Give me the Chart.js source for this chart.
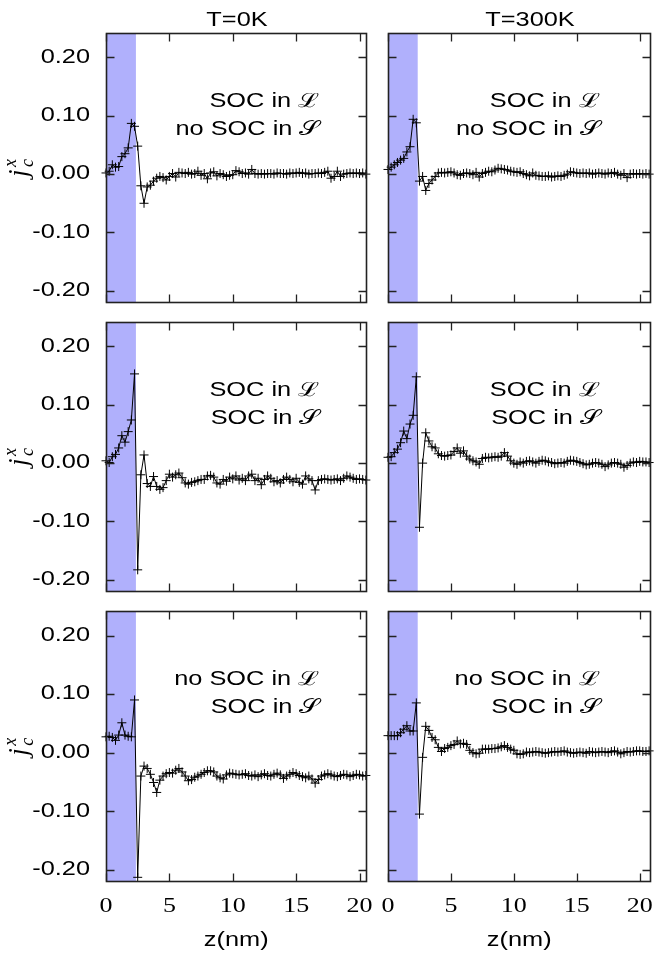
<!DOCTYPE html>
<html>
<head>
<meta charset="utf-8">
<script src="https://cdn.jsdelivr.net/npm/chart.js@4.4.0/dist/chart.umd.min.js"></script>
<style>
	body { margin: 0; background: #fff; width: 656px; height: 954px; position: relative; overflow: hidden; }
	canvas { position: absolute; }
</style>
</head>
<body>
<canvas id="pA"></canvas>
<canvas id="pB"></canvas>
<canvas id="pC"></canvas>
<canvas id="pD"></canvas>
<canvas id="pE"></canvas>
<canvas id="pF"></canvas>
<script>
// z positions (nm)
var z = [0, 0.25, 0.5, 0.75, 1, 1.25, 1.5, 1.75, 2, 2.25, 2.5, 2.75, 3, 3.25, 3.5, 3.75, 4, 4.25, 4.5, 4.75,
	5, 5.25, 5.5, 5.75, 6, 6.25, 6.5, 6.75, 7, 7.25, 7.5, 7.75, 8, 8.25, 8.5, 8.75, 9, 9.25, 9.5, 9.75,
	10, 10.25, 10.5, 10.75, 11, 11.25, 11.5, 11.75, 12, 12.25, 12.5, 12.75, 13, 13.25, 13.5, 13.75, 14, 14.25, 14.5, 14.75,
	15, 15.25, 15.5, 15.75, 16, 16.25, 16.5, 16.75, 17, 17.25, 17.5, 17.75, 18, 18.25, 18.5, 18.75, 19, 19.25, 19.5, 19.75,
	20, 20.25, 20.5, 20.75];

// j_c^x, SOC in L / no SOC in S
var socL_noS_0K = [0.002, 0.005, 0.016, 0.012, 0.013, 0.030, 0.035, 0.045, 0.087, 0.082,
	0.048, -0.020, -0.050, -0.022, -0.019, -0.012, -0.007, -0.004, -0.006, -0.010,
	-0.004, 0.001, -0.005, 0.003, 0.002, 0.001, 0.003, 0.000, 0.001, 0.005,
	-0.002, 0.001, -0.008, 0.002, 0.004, -0.003, 0.001, -0.001, -0.004, -0.002,
	-0.001, 0.006, 0.004, 0.001, 0.002, 0.000, 0.008, 0.001, 0.000, 0.001,
	0.000, 0.001, 0.001, 0.000, 0.002, 0.001, 0.001, 0.000, 0.002, 0.001,
	0.002, 0.003, 0.001, 0.002, 0.000, 0.001, 0.001, 0.002, 0.001, 0.003,
	0.005, -0.007, -0.004, 0.005, -0.004, 0.000, 0.001, 0.002, 0.001, 0.002,
	0.001, 0.002, 0.000];
var socL_noS_300K = [0.008, 0.012, 0.016, 0.020, 0.024, 0.027, 0.038, 0.047, 0.094, 0.088,
	-0.012, -0.004, -0.028, -0.016, -0.010, -0.004, 0.002, 0.003, 0.002, 0.003,
	0.004, 0.002, -0.001, -0.002, 0.001, 0.002, 0.001, -0.001, 0.003, -0.005,
	0.001, 0.003, 0.005, 0.004, 0.007, 0.010, 0.009, 0.008, 0.007, 0.005,
	0.004, 0.003, 0.004, 0.001, -0.001, -0.003, 0.002, -0.002, -0.003, -0.004,
	-0.004, -0.003, -0.005, -0.004, -0.003, -0.004, -0.002, 0.000, 0.004, 0.003,
	0.002, 0.001, 0.002, 0.001, 0.002, 0.000, 0.001, 0.002, 0.001, 0.000,
	0.002, 0.001, 0.003, 0.000, -0.002, 0.001, -0.006, 0.000, 0.001, 0.000,
	0.001, 0.000, 0.001, 0.000];
// SOC in L / SOC in S
var socL_socS_0K = [0.004, 0.001, 0.011, 0.015, 0.026, 0.047, 0.036, 0.054, 0.074, 0.153,
	-0.183, -0.020, 0.014, -0.035, -0.040, -0.023, -0.040, -0.045, -0.042, -0.030,
	-0.019, -0.024, -0.020, -0.017, -0.025, -0.034, -0.036, -0.033, -0.032, -0.030,
	-0.028, -0.028, -0.022, -0.021, -0.024, -0.034, -0.036, -0.028, -0.031, -0.024,
	-0.027, -0.022, -0.029, -0.026, -0.030, -0.022, -0.019, -0.030, -0.026, -0.037,
	-0.028, -0.022, -0.026, -0.032, -0.030, -0.034, -0.028, -0.024, -0.028, -0.032,
	-0.026, -0.033, -0.036, -0.022, -0.027, -0.030, -0.046, -0.030, -0.028, -0.027,
	-0.028, -0.029, -0.028, -0.027, -0.030, -0.026, -0.022, -0.024, -0.026, -0.028,
	-0.027, -0.028, -0.029];
var socL_socS_300K = [0.010, 0.011, 0.018, 0.024, 0.035, 0.055, 0.042, 0.067, 0.082, 0.148,
	-0.110, 0.000, 0.052, 0.038, 0.028, 0.026, 0.016, 0.013, 0.012, 0.013,
	0.014, 0.020, 0.026, 0.017, 0.021, 0.012, 0.007, 0.004, 0.002, -0.002,
	0.008, 0.010, 0.009, 0.010, 0.011, 0.010, 0.012, 0.018, 0.012, 0.004,
	0.000, -0.002, 0.002, 0.000, 0.003, 0.004, 0.002, 0.000, 0.003, 0.005,
	0.004, 0.002, 0.001, -0.001, 0.000, 0.001, 0.000, 0.003, 0.005, 0.004,
	0.003, 0.001, -0.001, -0.003, -0.002, 0.000, 0.001, 0.000, -0.002, -0.006,
	-0.003, 0.000, 0.001, 0.000, -0.002, -0.007, -0.004, 0.000, 0.002, 0.001,
	0.003, 0.002, 0.002, 0.001];
// no SOC in L / SOC in S
var noL_socS_0K = [0.027, 0.028, 0.026, 0.021, 0.030, 0.051, 0.030, 0.028, 0.027, 0.090,
	-0.213, -0.040, -0.023, -0.027, -0.037, -0.051, -0.068, -0.047, -0.040, -0.036,
	-0.034, -0.035, -0.030, -0.027, -0.033, -0.040, -0.048, -0.046, -0.042, -0.040,
	-0.037, -0.034, -0.031, -0.031, -0.033, -0.040, -0.043, -0.045, -0.038, -0.035,
	-0.036, -0.037, -0.038, -0.037, -0.036, -0.039, -0.040, -0.038, -0.041, -0.038,
	-0.036, -0.039, -0.040, -0.037, -0.035, -0.038, -0.044, -0.040, -0.037, -0.034,
	-0.036, -0.039, -0.041, -0.043, -0.040, -0.045, -0.052, -0.046, -0.040, -0.038,
	-0.036, -0.038, -0.040, -0.041, -0.039, -0.037, -0.038, -0.041, -0.039, -0.037,
	-0.038, -0.040, -0.039];
var noL_socS_300K = [0.029, 0.029, 0.029, 0.029, 0.034, 0.040, 0.046, 0.037, 0.037, 0.085,
	-0.105, -0.008, 0.045, 0.038, 0.026, 0.022, 0.009, 0.002, 0.007, 0.009,
	0.012, 0.014, 0.020, 0.015, 0.016, 0.014, 0.004, 0.000, -0.002, -0.001,
	0.006, 0.006, 0.006, 0.007, 0.007, 0.008, 0.010, 0.012, 0.009, 0.006,
	0.004, -0.002, -0.003, -0.002, 0.001, 0.000, 0.001, 0.002, 0.001, 0.000,
	-0.001, 0.000, 0.001, 0.002, 0.001, 0.002, 0.003, 0.001, 0.000, -0.001,
	0.000, 0.001, 0.000, -0.001, 0.002, 0.001, 0.000, 0.001, 0.002, 0.001,
	0.000, 0.002, 0.003, 0.001, -0.002, 0.000, 0.002, 0.001, 0.002, 0.003,
	0.003, 0.002, 0.002, 0.003];

var yTicks = [-0.2, -0.1, 0, 0.1, 0.2];
var xTicks = [0, 5, 10, 15, 20];
var bandEnd = 2.36; // interface, shaded region 0..bandEnd
var labelZ = 16.8;  // right edge of the SOC labels
var labelY = [0.125, 0.077];

var sansFont = '19.5px "Liberation Sans", Arial, sans-serif';
var textStretch = 1.3;

// one entry per panel: where it sits and what it shows
var panels = [
	{ id: 'pA', data: socL_noS_0K,    col: 0, row: 0, title: 'T=0K',   text: ['SOC in \u2112', 'no SOC in \uD835\uDCAE'] },
	{ id: 'pB', data: socL_noS_300K,  col: 1, row: 0, title: 'T=300K', text: ['SOC in \u2112', 'no SOC in \uD835\uDCAE'] },
	{ id: 'pC', data: socL_socS_0K,   col: 0, row: 1, text: ['SOC in \u2112', 'SOC in \uD835\uDCAE'] },
	{ id: 'pD', data: socL_socS_300K, col: 1, row: 1, text: ['SOC in \u2112', 'SOC in \uD835\uDCAE'] },
	{ id: 'pE', data: noL_socS_0K,    col: 0, row: 2, text: ['no SOC in \u2112', 'SOC in \uD835\uDCAE'] },
	{ id: 'pF', data: noL_socS_300K,  col: 1, row: 2, text: ['no SOC in \u2112', 'SOC in \uD835\uDCAE'] }
];

var colLayout = [
	{ left: 0,   width: 372, axisW: 106, padRight: 3, xMax: 20.55, titleX: 237 },
	{ left: 372, width: 284, axisW: 16,  padRight: 1, xMax: 20.86, titleX: 158 }
];
var rowLayout = [
	{ top: 0,   height: 310, padTop: 33, axisH: 7 },
	{ top: 312, height: 290, padTop: 10, axisH: 10 },
	{ top: 602, height: 352, padTop: 9, axisH: 72 }
];

function drawStretched(ctx, text, x, y, align, font) {
	ctx.save();
	ctx.font = font;
	ctx.fillStyle = '#000';
	ctx.textAlign = align;
	ctx.textBaseline = 'middle';
	ctx.translate(x, y);
	ctx.scale(textStretch, 1);
	ctx.fillText(text, 0, 0);
	ctx.restore();
}

function drawCurrentLabel(ctx, x, y) {
	ctx.save();
	ctx.translate(x, y);
	ctx.rotate(-Math.PI / 2);
	ctx.fillStyle = '#000';
	ctx.textBaseline = 'alphabetic';
	ctx.font = 'italic 27px "Liberation Serif", serif';
	ctx.fillText('j', -11, 7);
	ctx.font = 'italic 18px "Liberation Serif", serif';
	ctx.fillText('x', -1, -4);
	ctx.fillText('c', -1, 13);
	ctx.restore();
}

function fmtTick(v) {
	return (v < 0 ? '-' : '') + Math.abs(v).toFixed(2);
}

var panelDeco = {
	id: 'panelDeco',
	beforeDatasetsDraw: function(chart) {
		var ctx = chart.ctx, a = chart.chartArea, xs = chart.scales.x;
		var x0 = xs.getPixelForValue(0), x1 = xs.getPixelForValue(bandEnd);
		ctx.save();
		ctx.fillStyle = 'rgb(176, 176, 252)';
		ctx.fillRect(x0, a.top, x1 - x0, a.bottom - a.top);
		ctx.restore();
	},
	afterDatasetsDraw: function(chart) {
		var p = chart.options.plugins.panelDeco;
		var ctx = chart.ctx, a = chart.chartArea, xs = chart.scales.x, ys = chart.scales.y;
		var l = Math.round(a.left) + 0.5, r = Math.round(a.right) - 0.5;
		var t = Math.round(a.top) + 0.5, b = Math.round(a.bottom) - 0.5;
		var tl = 8;

		ctx.save();
		ctx.strokeStyle = '#222';
		ctx.lineWidth = 1.3;
		ctx.beginPath();
		ys.ticks.forEach(function(tk) {
			var y = Math.round(ys.getPixelForValue(tk.value)) + 0.5;
			ctx.moveTo(l, y); ctx.lineTo(l + tl, y);
			ctx.moveTo(r, y); ctx.lineTo(r - tl, y);
		});
		xs.ticks.forEach(function(tk) {
			var x = Math.round(xs.getPixelForValue(tk.value)) + 0.5;
			ctx.moveTo(x, b); ctx.lineTo(x, b - tl);
			ctx.moveTo(x, t); ctx.lineTo(x, t + tl);
		});
		ctx.stroke();
		ctx.lineWidth = 1.6;
		ctx.strokeRect(l, t, r - l, b - t);
		ctx.restore();

		// labels inside the panel
		var xl = xs.getPixelForValue(labelZ);
		drawStretched(ctx, p.text[0], xl, ys.getPixelForValue(labelY[0]), 'right', sansFont);
		drawStretched(ctx, p.text[1], xl, ys.getPixelForValue(labelY[1]), 'right', sansFont);

		if (p.title) {
			drawStretched(ctx, p.title, p.titleX, 21, 'center', sansFont);
		}
		if (p.col === 0) {
			ys.ticks.forEach(function(tk) {
				drawStretched(ctx, fmtTick(tk.value), a.left - 16, ys.getPixelForValue(tk.value), 'right', sansFont);
			});
			drawCurrentLabel(ctx, 20, ys.getPixelForValue(0) - 8);
		}
		if (p.row === 2) {
			xs.ticks.forEach(function(tk) {
				drawStretched(ctx, String(tk.value), xs.getPixelForValue(tk.value), a.bottom + 25, 'center', '20px "Liberation Serif", serif');
			});
			drawStretched(ctx, 'z(nm)', (a.left + a.right) / 2, a.bottom + 59, 'center', sansFont);
		}
	}
};

function generateDatas(values) {
	return {
		datasets: [{
			data: values.map(function(v, i) { return { x: z[i], y: v }; }),
			showLine: true,
			borderColor: '#000',
			borderWidth: 1,
			tension: 0,
			fill: false,
			pointStyle: 'cross',
			pointRadius: 4.5,
			pointBorderColor: '#000',
			pointBorderWidth: 1,
			clip: false
		}]
	};
}

panels.forEach(function(p) {
	var c = colLayout[p.col], r = rowLayout[p.row];
	var canvas = document.getElementById(p.id);
	canvas.width = c.width;
	canvas.height = r.height;
	canvas.style.left = c.left + 'px';
	canvas.style.top = r.top + 'px';

	new Chart(canvas, {
		type: 'scatter',
		data: generateDatas(p.data),
		plugins: [panelDeco],
		options: {
			responsive: false,
			animation: false,
			devicePixelRatio: 1,
			layout: { padding: { top: r.padTop, right: c.padRight, bottom: 0, left: 0 } },
			plugins: {
				legend: { display: false },
				tooltip: { enabled: false },
				panelDeco: { text: p.text, title: p.title, titleX: c.titleX, col: p.col, row: p.row }
			},
			scales: {
				x: {
					type: 'linear', min: 0, max: c.xMax,
					grid: { display: false }, border: { display: false },
					ticks: { display: false },
					afterBuildTicks: function(s) { s.ticks = xTicks.map(function(v) { return { value: v }; }); },
					afterFit: function(s) { s.height = r.axisH; }
				},
				y: {
					type: 'linear', min: -0.221, max: 0.242,
					grid: { display: false }, border: { display: false },
					ticks: { display: false },
					afterBuildTicks: function(s) { s.ticks = yTicks.map(function(v) { return { value: v }; }); },
					afterFit: function(s) { s.width = c.axisW; }
				}
			}
		}
	});
});
</script>
</body>
</html>
